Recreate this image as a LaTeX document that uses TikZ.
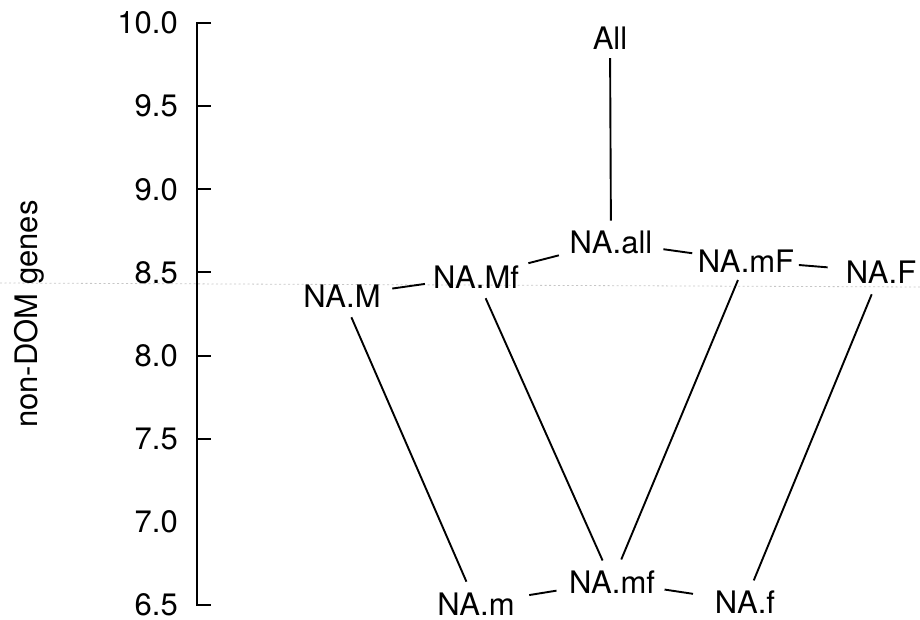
\documentclass[tikz,border=0pt]{standalone}
\usepackage{fontspec}
\setmainfont{TeX Gyre Heros}
\begin{document}
\begin{tikzpicture}[x=1pt,y=-1pt,
  lbl/.style={inner sep=0pt, anchor=base, font=\fontsize{31}{37}\selectfont},
  ticklbl/.style={inner sep=0pt, anchor=east, font=\fontsize{31}{37}\selectfont},
  edge/.style={line width=1.9pt, line cap=butt},
  axisline/.style={line width=1.9pt},
  artifact/.style={gray!45, line width=0.8pt, dash pattern=on 2pt off 2.5pt}]
\useasboundingbox (0,0) rectangle (920,620);
% faint scan line
\coordinate (artL) at (0,283);
\coordinate (artR) at (920,287);
\draw[artifact] (artL) -- (artR);
% axis
\draw[axisline] (211,23) -- (197,23) -- (197,605) -- (211,605);
\foreach \k in {1,...,5} {
  \draw[axisline] (197,{23+\k*83.14}) -- (211,{23+\k*83.14});
}
\foreach \v [count=\k from 0] in {10.0,9.5,9.0,8.5,8.0,7.5,7.0,6.5} {
  \node[ticklbl] (t\k) at (178,{23+\k*83.14}) {\v};
}
\node[lbl, rotate=90] (ylab) at (37,314) {non-DOM genes};
% nodes
\node[lbl] (All) at (610,50) {All};
\node[lbl] (NAall) at (611,253) {NA.all};
\node[lbl] (NAmF) at (746,272) {NA.mF};
\node[lbl] (NAF) at (881,283) {NA.F};
\node[lbl] (NAMf) at (476,288) {NA.Mf};
\node[lbl] (NAM) at (342,307) {NA.M};
\node[lbl] (NAm) at (476,615) {NA.m};
\node[lbl] (NAmf) at (612,593) {NA.mf};
\node[lbl] (NAf) at (745,613) {NA.f};
% connectors
\draw[edge, shorten <=8pt, shorten >=9.5pt] (All) -- (NAall);
\draw[edge, shorten <=11.5pt, shorten >=8pt] (NAM) -- (NAMf);
\draw[edge, shorten <=9.5pt, shorten >=11pt] (NAMf) -- (NAall);
\draw[edge, shorten <=11pt, shorten >=5.5pt] (NAall) -- (NAmF);
\draw[edge, shorten <=4.5pt, shorten >=18pt] (NAmF) -- (NAF);
\draw[edge, shorten <=11pt, shorten >=11.5pt] (NAM) -- (NAm);
\draw[edge, shorten <=11pt, shorten >=10.5pt] (NAMf) -- (NAmf);
\draw[edge, shorten <=8.5pt, shorten >=11.5pt] (NAmF) -- (NAmf);
\draw[edge, shorten <=12pt, shorten >=10.5pt] (NAF) -- (NAf);
\draw[edge, shorten <=14.5pt, shorten >=12.5pt] (NAm) -- (NAmf);
\draw[edge, shorten <=9.5pt, shorten >=22pt] (NAmf) -- (NAf);
\end{tikzpicture}
\end{document}
